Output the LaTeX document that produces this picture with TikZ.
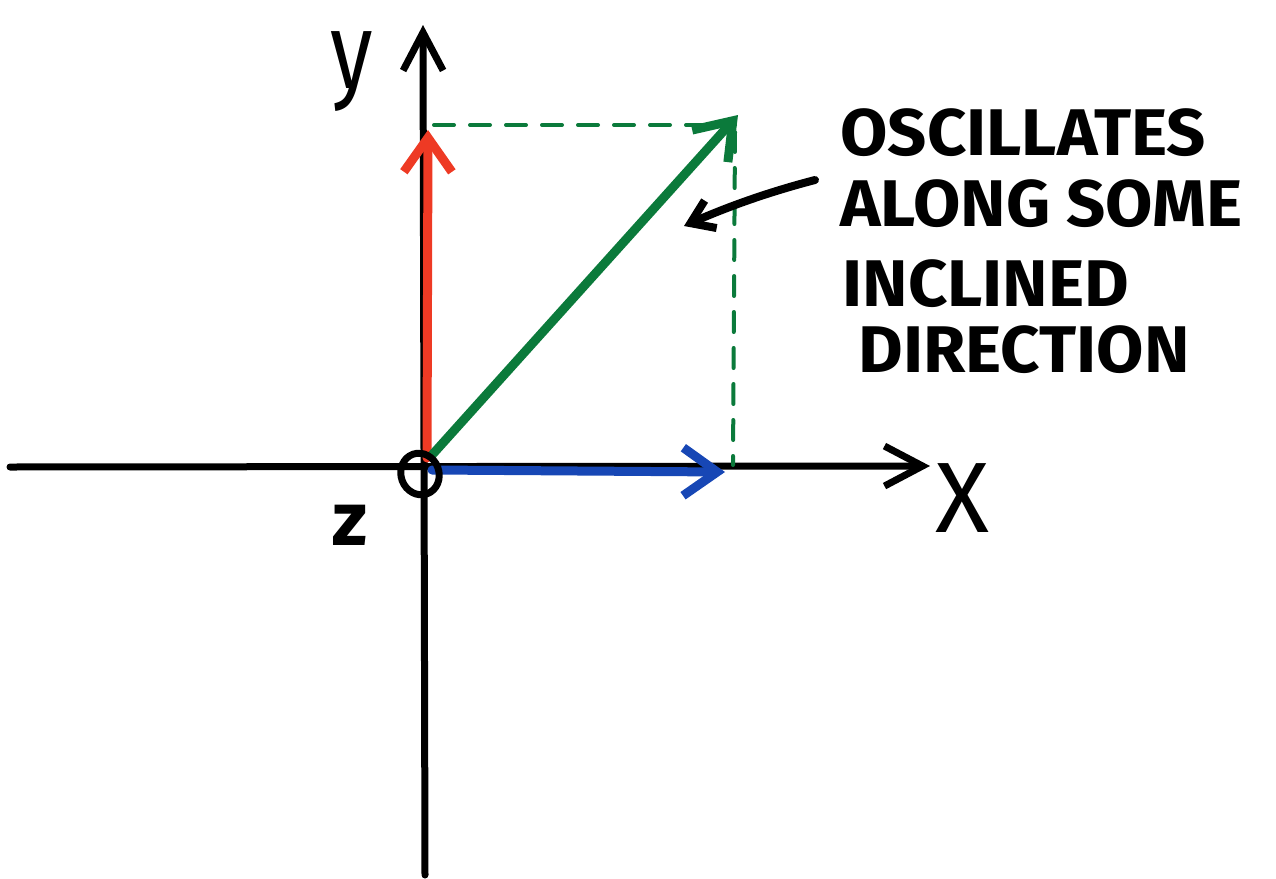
\documentclass[tikz,border=0pt]{standalone}
\usepackage{fontspec}
\setmainfont{Fira Sans}
\usetikzlibrary{arrows.meta,shapes.geometric}
\definecolor{redv}{HTML}{EE3A24}
\definecolor{greenv}{HTML}{0B7A3B}
\definecolor{bluev}{HTML}{1747B5}
\tikzset{
  axisline/.style={line width=3.5pt,black,-{Straight Barb[length=19pt,width=20pt]}},
  vecline/.style={line width=4.5pt,-{Straight Barb[length=17pt,width=24pt]}},
  dashline/.style={line width=2pt,greenv,dash pattern=on 10pt off 8pt},
  annot/.style={line width=4pt,black,-{Straight Barb[length=11pt,width=15pt]}},
  txt/.style={anchor=base west,inner sep=0pt,font=\fontsize{33}{36}\selectfont\bfseries},
  lbl/.style={inner sep=0pt}
}
\begin{document}
\begin{tikzpicture}[x=0.5pt,y=-0.5pt,line cap=round,line join=round]
\useasboundingbox (0,0) rectangle (1276,879);
% axes
\coordinate (xl) at (10,467);
\coordinate (xr) at (930,466);
\coordinate (yb) at (425,875);
\coordinate (yt) at (423,25);
\draw[axisline] (xl) -- (xr);
\draw[axisline] (yb) -- (yt);
% vector points
\coordinate (o1) at (427,458);
\coordinate (o2) at (432,470);
\coordinate (o3) at (432,455);
\coordinate (ry) at (428,130);
\coordinate (bx) at (725,472);
\coordinate (gv) at (738,115);
\coordinate (dh0) at (434,125);
\coordinate (dh1) at (735,125);
\coordinate (dv0) at (735,132);
\coordinate (dv1) at (733,465);
% dashed projections
\draw[dashline] (dh0) -- (dh1);
\draw[dashline] (dv0) -- (dv1);
% vectors
\draw[vecline,redv] (o1) -- (ry);
\draw[vecline,bluev] (o2) -- (bx);
\draw[vecline,greenv] (o3) -- (gv);
% origin circle
\node[ellipse,draw,line width=3.5pt,minimum width=19pt,minimum height=21pt,inner sep=0pt,rotate=20] (origin) at (420,474) {};
% labels
\node[lbl,font=\fontsize{50}{50}\selectfont] (xlab) at (962,498) {X};
\node[lbl,font=\fontsize{38}{38}\selectfont\bfseries] (zlab) at (350,525) {z};
\node[lbl,font=\fontsize{54}{54}\selectfont,xscale=0.8] (ylab) at (352,72) {y};
% annotation
\node[txt,xscale=1.04] (t1) at (840,155) {OSCILLATES};
\node[txt,xscale=1.04] (t2) at (840,226) {ALONG SOME};
\node[txt,xscale=1.04] (t3) at (842,306) {INCLINED};
\node[txt,xscale=1.04] (t4) at (858,372) {DIRECTION};
\coordinate (a0) at (815,180);
\coordinate (a1) at (684,226);
\draw[annot] (a0) .. controls (765,193) and (725,208) .. (a1);
\end{tikzpicture}
\end{document}
